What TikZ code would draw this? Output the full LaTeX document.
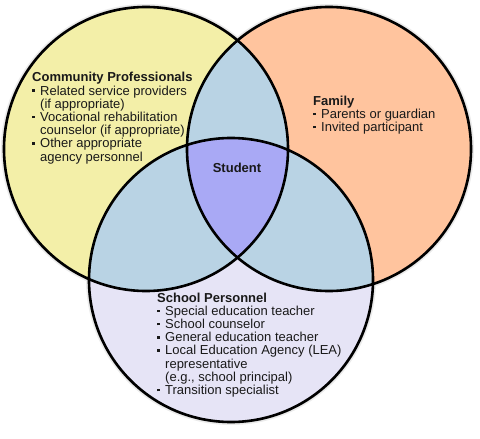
\documentclass[tikz,border=0pt]{standalone}
\usepackage{fontspec}
\setmainfont{Liberation Sans}
\definecolor{cyellow}{RGB}{243,239,168}
\definecolor{corange}{RGB}{255,196,158}
\definecolor{clav}{RGB}{230,228,246}
\definecolor{cblue}{RGB}{185,211,228}
\definecolor{cpurple}{RGB}{169,169,245}
\definecolor{ctext}{RGB}{25,25,25}
\newcommand{\bul}{\makebox[8pt][l]{\raisebox{3.2pt}{\rule{2.6pt}{2.6pt}}}}
\newcommand{\ind}{\hspace*{8pt}}
\begin{document}
\begin{tikzpicture}[x=1pt,y=-1pt,
  ring/.style={line width=2.6pt, draw=black},
  lbl/.style={anchor=base west, inner sep=0pt, align=left, text=ctext,
    font=\fontsize{13}{13.2}\selectfont},
  shadowlayer/.style={fill=black}
]
\useasboundingbox (0,0) rectangle (480,439);
\coordinate (L) at (146,149);
\coordinate (R) at (329,149);
\coordinate (B) at (231,280);
% soft drop shadow
\foreach \k/\o in {0/0.16,1.5/0.12,3/0.08}{
  \begin{scope}[transparency group, opacity=\o, shift={(3,4)}]
    \foreach \c in {L,R,B}
      \fill[shadowlayer] (\c) circle[radius=142pt+\k pt];
  \end{scope}
}
% fills
\fill[cyellow] (L) circle[radius=142pt];
\fill[corange] (R) circle[radius=142pt];
\fill[clav] (B) circle[radius=142pt];
\begin{scope}
  \clip (L) circle[radius=142pt];
  \fill[cblue] (R) circle[radius=142pt];
  \fill[cblue] (B) circle[radius=142pt];
\end{scope}
\begin{scope}
  \clip (R) circle[radius=142pt];
  \fill[cblue] (B) circle[radius=142pt];
\end{scope}
\begin{scope}
  \clip (L) circle[radius=142pt];
  \clip (R) circle[radius=142pt];
  \fill[cpurple] (B) circle[radius=142pt];
\end{scope}
% outlines
\draw[ring] (L) circle[radius=142pt];
\draw[ring] (R) circle[radius=142pt];
\draw[ring] (B) circle[radius=142pt];
% texts (anchored at the baseline of their last line)
\node[lbl] (community) at (32,161) {\textbf{Community Professionals}\\
  \bul Related service providers\\
  \ind(if appropriate)\\
  \bul Vocational rehabilitation\\
  \ind counselor (if appropriate)\\
  \bul Other appropriate\\
  \ind agency personnel};
\node[lbl] (family) at (313,131.5) {\textbf{Family}\\
  \bul Parents or guardian\\
  \bul Invited participant};
\node[lbl] (school) at (157,394.5) {\textbf{School Personnel}\\
  \bul Special education teacher\\
  \bul School counselor\\
  \bul General education teacher\\
  \bul Local Education Agency (LEA)\\
  \ind representative\\
  \ind(e.g., school principal)\\
  \bul Transition specialist};
\node[lbl, anchor=base] (student) at (237,172.5) {\textbf{Student}};
\end{tikzpicture}
\end{document}
